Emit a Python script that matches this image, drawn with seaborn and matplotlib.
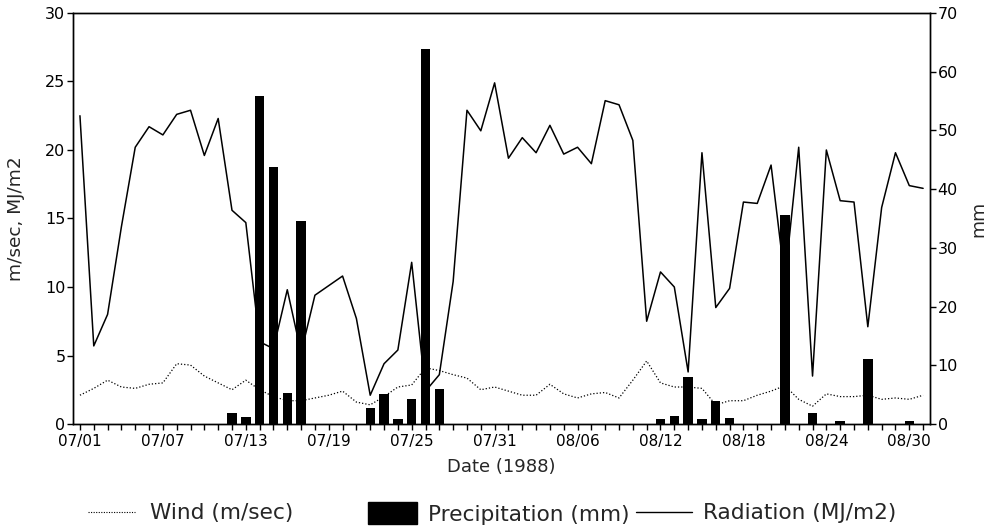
import numpy as np
import pandas as pd
import matplotlib
matplotlib.use("Agg")
import matplotlib.pyplot as plt
import seaborn as sns
from matplotlib.lines import Line2D
from matplotlib.patches import Patch

# ---------------- data ----------------
dates = pd.date_range("1988-07-01", "1988-08-31", freq="D")

radiation = [22.5, 5.7, 8.0, 14.4, 20.2, 21.7, 21.1, 22.6, 22.9, 19.6,
             22.3, 15.6, 14.7, 6.0, 5.5, 9.8, 5.2, 9.4, 10.1, 10.8,
             7.7, 2.1, 4.4, 5.4, 11.8, 2.4, 3.6, 10.4, 22.9, 21.4,
             24.9, 19.4, 20.9, 19.8, 21.8, 19.7, 20.2, 19.0, 23.6, 23.3,
             20.7, 7.5, 11.1, 10.0, 3.8, 19.8, 8.5, 9.9, 16.2, 16.1,
             18.9, 10.5, 20.2, 3.5, 20.0, 16.3, 16.2, 7.1, 15.8, 19.8,
             17.4, 17.2]

wind = [2.1, 2.6, 3.2, 2.7, 2.6, 2.9, 3.0, 4.4, 4.3, 3.5,
        3.0, 2.5, 3.2, 2.5, 2.0, 1.7, 1.7, 1.9, 2.1, 2.4,
        1.6, 1.4, 2.0, 2.7, 2.85, 4.1, 3.9, 3.6, 3.35, 2.5,
        2.7, 2.4, 2.1, 2.1, 2.9, 2.2, 1.9, 2.2, 2.3, 1.9,
        3.2, 4.6, 3.0, 2.7, 2.7, 2.6, 1.4, 1.7, 1.7, 2.1,
        2.4, 2.8, 1.8, 1.3, 2.2, 2.0, 2.0, 2.1, 1.8, 1.9,
        1.8, 2.1]

precip = [0, 0, 0, 0, 0, 0, 0, 0, 0, 0,
          0, 1.9, 1.2, 55.9, 43.8, 5.3, 34.6, 0, 0, 0,
          0, 2.8, 5.1, 0.8, 4.3, 63.9, 5.9, 0, 0, 0,
          0, 0, 0, 0, 0, 0, 0, 0, 0, 0,
          0, 0, 0.8, 1.4, 8.0, 0.85, 4.0, 1.1, 0, 0,
          0, 35.6, 0, 1.8, 0, 0.45, 0, 11.1, 0, 0,
          0.45, 0]

left_ticks = [0, 5, 10, 15, 20, 25, 30]
right_ticks = [0, 10, 20, 30, 40, 50, 60, 70]

df = pd.DataFrame({"date": dates, "radiation": radiation,
                   "wind": wind, "precip": precip})
df["day"] = (df["date"] - df["date"].iloc[0]).dt.days

# ---------------- style ----------------
sns.set_style("ticks")
plt.rcParams["font.family"] = ["DejaVu Sans"]

fig = plt.figure(figsize=(9.95, 5.32), dpi=100)
ax = fig.add_axes([0.0734, 0.203, 0.8613, 0.7726])
ax2 = ax.twinx()

# precipitation bars on right axis (drawn over the lines)
sns.barplot(data=df, x="day", y="precip", native_scale=True, ax=ax2,
            color="black", width=0.68, linewidth=0, saturation=1)

# lines on left axis
sns.lineplot(data=df, x="day", y="radiation", ax=ax, color="black",
             linewidth=1.1)
sns.lineplot(data=df, x="day", y="wind", ax=ax, color="black",
             linewidth=0.9, linestyle=(0, (1, 1.6)))

ax.set_xlim(-0.5, 61.5)
ax2.set_xlim(-0.5, 61.5)
ax.set_ylim(0, 30)
ax2.set_ylim(0, 70)

major = df["day"].iloc[::6].tolist()
ax.set_xticks(major)
ax.set_xticklabels(df["date"].iloc[::6].dt.strftime("%m/%d"))
ax.set_xticks(df["day"].tolist(), minor=True)
ax.set_yticks(left_ticks)
ax2.set_yticks(right_ticks)

for a in (ax, ax2):
    a.tick_params(axis="both", which="both", direction="out", length=4,
                  width=1, colors="black")
    a.tick_params(axis="y", labelsize=11.5, pad=1.5)
    a.tick_params(axis="x", labelsize=11, pad=3)
    for s in a.spines.values():
        s.set_visible(True)
        s.set_color("black")
        s.set_linewidth(1.0)

ax.set_xlabel("Date (1988)", fontsize=13, labelpad=7)
ax.set_ylabel("m/sec, MJ/m2", fontsize=13.3)
ax.yaxis.set_label_coords(-0.056, 0.5)
ax2.set_ylabel("mm", fontsize=13.3, labelpad=8)

# ---------------- legend ----------------
fs = 15.6
h1 = Line2D([], [], color="black", linewidth=0.8, linestyle=(0, (1, 1.3)))
h2 = Patch(facecolor="black", edgecolor="black")
h3 = Line2D([], [], color="black", linewidth=1.0)
y_leg = 0.035
fig.legend([h1], ["Wind (m/sec)"], loc="center left",
           bbox_to_anchor=(88 / 995, y_leg), frameon=False, fontsize=fs,
           handlelength=2.15, handletextpad=0.7, borderpad=0,
           borderaxespad=0)
fig.legend([h2], ["Precipitation (mm)"], loc="center left",
           bbox_to_anchor=(368 / 995, y_leg), frameon=False, fontsize=fs,
           handlelength=2.25, handleheight=1.2, handletextpad=0.5,
           borderpad=0, borderaxespad=0)
fig.legend([h3], ["Radiation (MJ/m2)"], loc="center left",
           bbox_to_anchor=(636 / 995, y_leg), frameon=False, fontsize=fs,
           handlelength=2.6, handletextpad=0.5, borderpad=0,
           borderaxespad=0)

fig.savefig("out.png", dpi=100)
